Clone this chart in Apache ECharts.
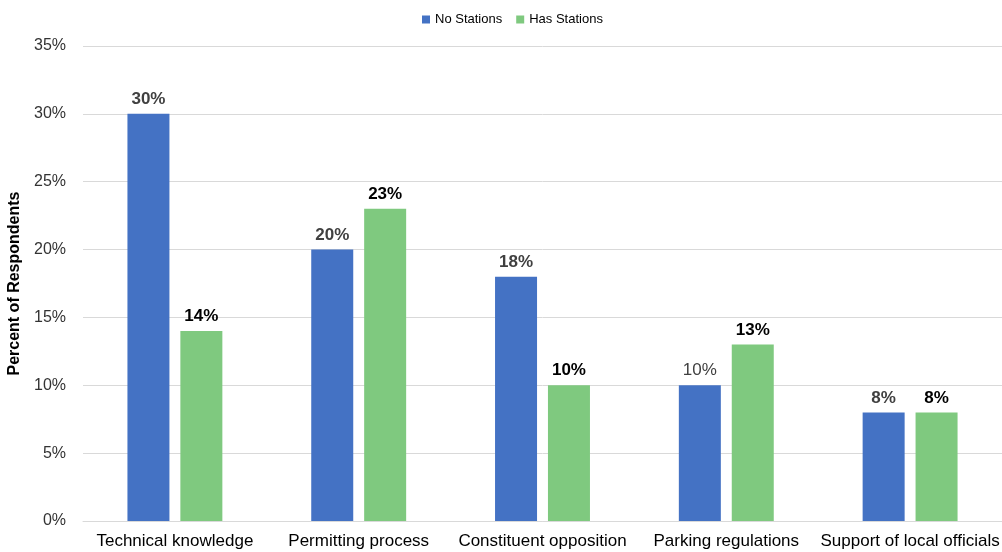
<!DOCTYPE html>
<html><head><meta charset="utf-8">
<script src="https://cdn.jsdelivr.net/npm/echarts@6/dist/echarts.min.js"></script>
<style>html,body{margin:0;padding:0;background:#fff}#c{width:1002px;height:552px}</style>
</head><body><div id="c"></div>
<script>
var categories = ['Technical knowledge','Permitting process','Constituent opposition','Parking regulations','Support of local officials'];
var noStations = [30, 20, 18, 10, 8];
var hasStations = [14, 23, 10, 13, 8];
var yTicks = [0, 5, 10, 15, 20, 25, 30, 35];

var chart = echarts.init(document.getElementById('c'));
var font = 'Liberation Sans, Arial, sans-serif';
chart.setOption({
  animation: false,
  textStyle: {fontFamily: font},
  legend: {
    top: 8, left: 417,
    itemWidth: 8, itemHeight: 8, itemGap: 14,
    icon: 'rect',
    textStyle: {fontSize: 13, color: '#000', fontFamily: font},
    data: ['No Stations', 'Has Stations']
  },
  grid: {left: 83, right: 0, top: 46, bottom: 31, containLabel: false, outerBoundsMode: 'none'},
  xAxis: {
    type: 'category', data: categories,
    axisLine: {lineStyle: {color: '#d9d9d9'}},
    axisTick: {show: false},
    axisLabel: {fontSize: 17, color: '#000', margin: 12, fontFamily: font, interval: 0}
  },
  yAxis: {
    type: 'value', min: yTicks[0], max: yTicks[yTicks.length-1], interval: 5,
    name: 'Percent of Respondents', nameLocation: 'middle', nameGap: 55,
    nameTextStyle: {fontSize: 16, fontWeight: 'bold', color: '#000', fontFamily: font},
    axisLabel: {fontSize: 16, color: '#333', formatter: '{value}%', margin: 17, fontFamily: font},
    splitLine: {lineStyle: {color: '#d9d9d9'}},
    axisLine: {show: false}, axisTick: {show: false}
  },
  series: [
    {
      name: 'No Stations', type: 'bar', data: noStations.map(function(v, i){
        return i === 3 ? {value: v, label: {fontWeight: 'normal'}} : v;
      }),
      barWidth: 42, barGap: '26%',
      itemStyle: {color: '#4472C4'},
      label: {show: true, position: 'top', formatter: '{c}%', fontSize: 17, fontWeight: 'bold', color: '#404040', distance: 6, fontFamily: font}
    },
    {
      name: 'Has Stations', type: 'bar', data: hasStations,
      barWidth: 42,
      itemStyle: {color: '#7FC97F'},
      label: {show: true, position: 'top', formatter: '{c}%', fontSize: 17, fontWeight: 'bold', color: '#000', distance: 6, fontFamily: font}
    }
  ]
});
</script></body></html>
